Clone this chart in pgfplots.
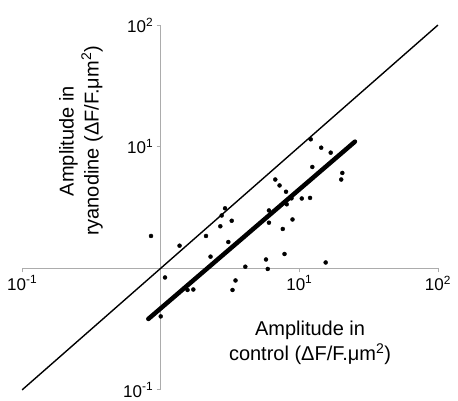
\documentclass[border=0pt]{standalone}
\usepackage{pgfplots}
\pgfplotsset{compat=1.18}
\usepackage{fontspec}
\setmainfont{Liberation Sans}
\begin{document}
\begin{tikzpicture}
\begin{axis}[
  xmode=log, ymode=log,
  scale only axis, width=415.8pt, height=364.8pt,
  xmin=0.1, xmax=100, ymin=0.1, ymax=100,
  axis lines=middle,
  axis line style={-, draw=gray!65, line width=0.8pt},
  xtick={0.1,10,100}, ytick={0.1,10,100},
  xticklabels={10\textsuperscript{-1},10\textsuperscript{1},10\textsuperscript{2}},
  yticklabels={10\textsuperscript{-1},10\textsuperscript{1},10\textsuperscript{2}},
  xminorticks=false, yminorticks=false,
  tick style={draw=gray!65, line width=0.8pt},
  major tick length=4pt,
  tick align=outside,
  ticklabel style={font=\fontsize{17}{20}\selectfont, text=black},
  clip=false,
]
\path (axis cs:0.06924,0.08415) rectangle (axis cs:139.65,160.84);
\addplot[black, line width=1.4pt] coordinates {(0.1,0.1) (100,100)};
\addplot[black, line width=4.5pt, line cap=round] coordinates {(0.814,0.383) (25.2,11.0)};
\addplot[only marks, mark=*, mark size=2pt, black] coordinates {
(0.851,1.844) (1.367,1.534) (2.122,1.844) (2.692,2.215) (2.754,2.718)
(2.911,3.114) (3.253,2.459) (3.075,1.645) (2.288,1.246) (4.078,1.03)
(1.074,0.840) (3.465,0.794) (1.561,0.663) (1.719,0.669) (3.296,0.663)
(1.0,0.402) (12.08,11.5) (14.39,9.81) (16.85,8.93) (12.41,6.81)
(20.43,6.08) (20.06,5.37) (6.71,5.37) (7.20,4.80) (8.02,4.26)
(8.78,3.76) (10.42,3.75) (11.95,3.79) (8.11,3.36) (6.04,2.99)
(6.04,2.37) (8.93,2.52) (7.60,2.105) (5.75,1.181) (7.82,1.311)
(5.92,0.987) (15.50,1.116)
};
\node[font=\fontsize{20}{25}\selectfont, align=center] at (axis cs:11.95,0.243) {Amplitude in\\control (ΔF/F.μm\textsuperscript{2})};
\node[font=\fontsize{20}{25}\selectfont, align=center, rotate=90] at (axis cs:0.266,11.14) {Amplitude in\\ryanodine (ΔF/F.μm\textsuperscript{2})};
\end{axis}
\end{tikzpicture}
\end{document}
